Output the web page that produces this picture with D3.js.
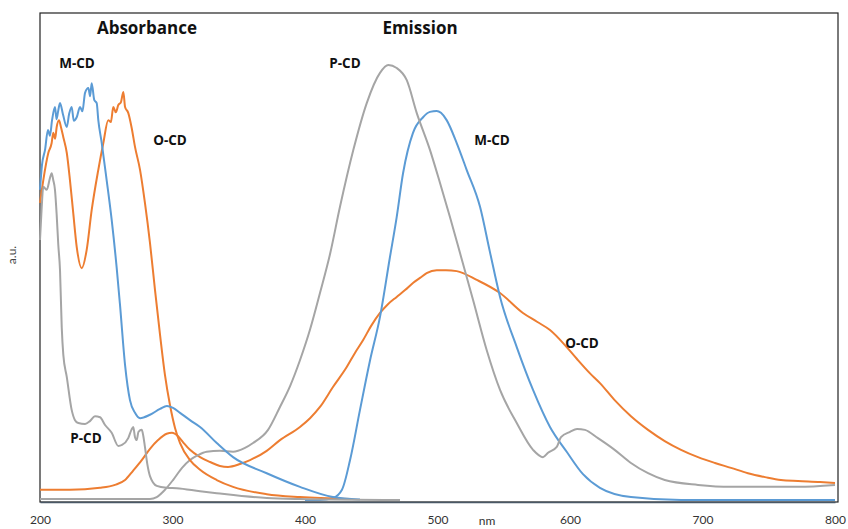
<!DOCTYPE html>
<html>
<head>
<meta charset="utf-8">
<script src="https://cdn.jsdelivr.net/npm/d3@7"></script>
<style>
  body { margin: 0; background: #fff; }
  svg { display: block; }
  .lbl { font-family: "Open Sans", Lato, sans-serif; font-weight: bold; fill: #111; }
  .tick text { font-family: Lato, "Open Sans", sans-serif; font-size: 12px; fill: #333; }
</style>
</head>
<body>
<div id="chart"></div>
<script>
// x ticks (nm)
var xTicks = [200, 300, 400, 500, 600, 700, 800];

// absorbance spectra [nm, a.u.]
var mcdAbs = [[200,63.7],[201.5,68.8],[203.8,71.9],[206,76.0],[207.5,74.8],[209.1,78.0],[211.3,80.7],[212.5,78.2],[213.6,79.7],[215.1,81.5],
  [217.4,79.1],[220.2,76.6],[222,79.3],[223.9,80.7],[225.5,77.9],[227.7,78.6],[230.2,80.7],[232,79.8],[234,83.6],[236.5,84.6],[237.8,82.9],[239,85.6],[241,82.1],
  [242.8,81.5],[244,78.0],[246.6,73.3],[250.3,65.7],[254.1,57.5],[257.9,47.6],[260.4,40.0],[264.2,27.7],[267.9,20.5],
  [271.7,17.9],[275.5,16.8],[283,17.5],[290.6,18.7],[295.8,19.3],[300.4,18.9],[305.7,17.9],[313.2,16.4],[320.8,15.0],
  [333.4,11.7],[345.7,8.8],[371.1,5.5],[396.2,2.7],[421.1,0.6],[441.5,0.1]];

var ocdAbs = [[200,61.0],[202.5,65.7],[206.3,71.3],[208.8,73.3],[210,75.4],[211.4,74.2],[212.6,76.6],[214.3,78.0],[215.8,76.6],
  [217.6,74.5],[220.2,71.3],[222.6,65.7],[225.1,58.9],[227.7,52.0],[231.5,47.6],[235.2,51.3],[239,59.5],[244,67.8],
  [247.8,73.3],[251.5,78.0],[253.5,77.6],[255.3,80.7],[257.2,79.6],[259.1,81.1],[261.1,81.7],[262.9,83.8],[264.2,80.7],[266.6,79.5],[269.2,76.4],
  [271.7,72.5],[275.5,67.8],[279.2,61.0],[283,52.8],[286.8,43.1],[290.6,33.9],[294.3,25.7],[298.1,19.5],[301.9,14.8],
  [305.7,11.7],[313.2,8.2],[320.8,6.2],[333.4,4.1],[345.7,2.7],[371.1,1.2],[396.2,0.6],[434,0.2]];

var pcdAbs = [[200,53.4],[201.3,60.2],[202.5,64.3],[205.1,63.7],[207.5,66.1],[208.8,67.1],[210,65.7],[211.3,63.7],
  [212.6,58.5],[213.8,52.4],[215.1,47.2],[216.4,35.5],[217.6,29.8],[220.2,25.3],[223.9,18.5],[226.4,16.4],[228.9,15.8],
  [234,15.6],[237.7,16.2],[241.5,17.2],[245.3,17.0],[249.1,15.4],[254.1,13.8],[259.1,11.1],[261.9,11.3],[266.6,12.7],
  [269,14.4],[270.4,15.0],[271.7,12.9],[273,12.3],[274.3,14.0],[276.8,14.4],[278,13.1],[279.2,10.9],[281.1,7.2],
  [283,4.9],[288.1,2.9],[295.6,2.5],[303.2,2.4],[320.8,1.8],[333.4,1.4],[371.1,0.4],[396.2,0.2],[471.7,0]];

// emission spectra [nm, a.u.]
var pcdEm = [[200,0.2],[260.4,0.2],[283,0.2],[288.1,0.6],[294.3,2.1],[300.4,4.1],[307.2,6.6],[313.2,8.2],[319.2,9.2],
  [325.8,9.9],[335.8,10.1],[345.7,9.9],[354.7,10.7],[360.8,11.7],[372.1,14.4],[381.1,19.1],[388.9,23.5],[396.2,28.7],
  [403.8,35.0],[411.3,42.5],[418.9,50.5],[426.4,60.2],[436.5,71.9],[446.6,81.5],[456.6,87.7],[462.9,89.3],[469.2,88.7],
  [476.8,86.2],[484.3,79.5],[494.3,71.9],[501.9,65.1],[509.4,58.1],[517,50.7],[526.8,41.1],[537.1,30.8],[547.2,22.6],
  [559.8,15.8],[572.1,10.3],[579.6,8.8],[583.4,9.7],[590,10.9],[593.2,12.9],[600,14.0],[605.3,14.6],[611.3,14.4],
  [621.1,12.7],[633.7,10.3],[646,7.6],[658.9,5.5],[671.5,4.1],[696.6,3.1],[721.5,2.7],[747.2,2.7],[772.1,2.7],[800,3.1]];

var mcdEm = [[400,0],[411.3,0],[421.1,0.4],[427.9,2.1],[434,8.2],[441.5,18.5],[449.1,28.7],[456.6,37.6],[464,49.7],
  [469.2,58.1],[474,67.1],[481.5,75.4],[489.1,78.6],[494.3,79.7],[499.4,79.9],[502.6,79.5],[506.9,78.0],[514.5,73.3],
  [522,67.8],[532.1,60.2],[539.6,50.9],[547.2,41.7],[559.8,31.4],[572.1,22.6],[584.9,15.0],[597.5,9.9],[609.8,5.3],
  [622.6,2.5],[646,0.6],[683.8,0],[800,0]];

var ocdEm = [[200,2.1],[222.6,2.1],[245.3,2.5],[256.6,3.1],[264.2,4.1],[270.2,6.0],[276.8,8.2],[283,10.5],[289.1,12.3],
  [295.6,13.6],[299.6,13.8],[304.2,13.1],[307.9,11.9],[313.2,10.3],[320.8,8.8],[328.3,7.8],[335.8,7.0],[341.9,6.8],
  [350.9,7.4],[358.5,8.2],[371.1,10.1],[381.1,12.3],[396.2,15.0],[403.8,16.8],[411.3,19.1],[421.1,23.2],[431.5,27.3],
  [437.7,30.2],[444,32.9],[449.8,35.7],[456.6,38.4],[462.6,40.2],[469.2,41.7],[475.5,43.1],[481.7,44.6],[486.8,45.6],
  [491.8,46.6],[499.4,47.2],[506.4,47.2],[514.5,47.0],[529.6,45.2],[547.2,42.5],[564.5,38.4],[575.1,36.6],[584.9,34.9],
  [596.2,31.8],[605.1,29.0],[615.1,26.0],[622.6,24.0],[633.7,20.5],[646,17.2],[658.9,14.4],[671.5,12.1],[683.8,10.3],
  [696.6,8.8],[709.4,7.6],[721.5,6.6],[734.3,5.5],[747.2,4.7],[759.2,4.1],[772.1,3.9],[788.7,3.7],[800,3.5]];

var colors = { M: "#5b9bd5", O: "#ed7d31", P: "#a5a5a5" };

var width = 848, height = 529;

var svg = d3.select("#chart").append("svg")
  .attr("width", width)
  .attr("height", height);

var x = d3.scaleLinear().domain([200, 800]).range([40, 835]);
var y = d3.scaleLinear().domain([0, 100]).range([500, 13]);

// plot frame
svg.append("rect")
  .attr("x", 40).attr("y", 13)
  .attr("width", 798).attr("height", 489)
  .attr("fill", "none")
  .attr("stroke", "#222")
  .attr("stroke-width", 1.2);

var line = d3.line()
  .x(function(d) { return x(d[0]); })
  .y(function(d) { return y(d[1]); })
  .curve(d3.curveMonotoneX);

var series = [
  { data: ocdEm, c: colors.O },
  { data: mcdEm, c: colors.M },
  { data: pcdEm, c: colors.P },
  { data: ocdAbs, c: colors.O },
  { data: mcdAbs, c: colors.M },
  { data: pcdAbs, c: colors.P }
];

svg.selectAll(".spec")
  .data(series)
  .enter().append("path")
  .attr("class", "spec")
  .attr("d", function(d) { return line(d.data); })
  .attr("fill", "none")
  .attr("stroke", function(d) { return d.c; })
  .attr("stroke-width", 2)
  .attr("stroke-linejoin", "round");

// x axis
var xAxis = svg.append("g")
  .attr("transform", "translate(0,502)")
  .call(d3.axisBottom(x).tickValues(xTicks).tickSize(0).tickPadding(13).tickFormat(d3.format("d")));
xAxis.select(".domain").attr("stroke", "#4a5866").attr("stroke-width", 1.5);

svg.append("text")
  .attr("x", 487).attr("y", 525)
  .attr("text-anchor", "middle")
  .style("font-family", "Lato, sans-serif")
  .style("font-size", "12px")
  .attr("fill", "#333")
  .text("nm");

svg.append("text")
  .attr("transform", "translate(16,255) rotate(-90)")
  .attr("text-anchor", "middle")
  .style("font-family", "Lato, sans-serif")
  .style("font-size", "12px")
  .attr("fill", "#444")
  .text("a.u.");

// titles and curve labels
var titles = [
  { t: "Absorbance", x: 147, y: 34 },
  { t: "Emission", x: 420, y: 34 }
];
svg.selectAll(".title")
  .data(titles)
  .enter().append("text")
  .attr("class", "lbl title")
  .attr("x", function(d) { return d.x; })
  .attr("y", function(d) { return d.y; })
  .attr("text-anchor", "middle")
  .style("font-size", "17px")
  .text(function(d) { return d.t; });

var labels = [
  { t: "M-CD", x: 77, y: 68 },
  { t: "O-CD", x: 170, y: 145 },
  { t: "P-CD", x: 86, y: 443 },
  { t: "P-CD", x: 345, y: 68 },
  { t: "M-CD", x: 492, y: 145 },
  { t: "O-CD", x: 582, y: 348 }
];
svg.selectAll(".clbl")
  .data(labels)
  .enter().append("text")
  .attr("class", "lbl clbl")
  .attr("x", function(d) { return d.x; })
  .attr("y", function(d) { return d.y; })
  .attr("text-anchor", "middle")
  .style("font-size", "13.5px")
  .text(function(d) { return d.t; });
</script>
</body>
</html>
